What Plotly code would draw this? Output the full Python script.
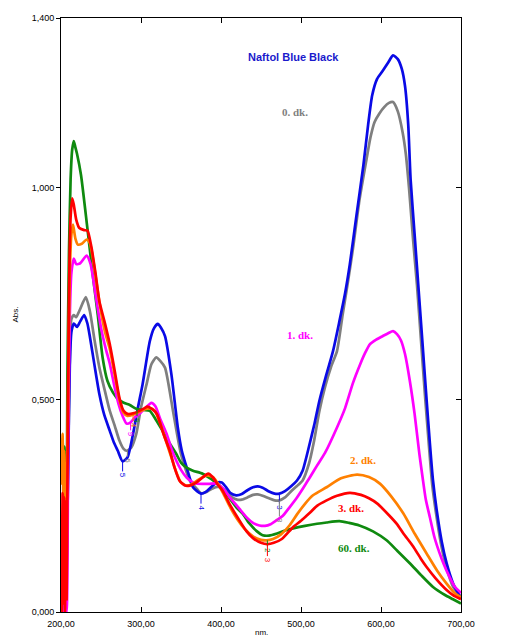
import plotly.graph_objects as go

# ---------------- data ----------------
blue_wl = [201, 203, 205, 207, 209, 211, 213, 216, 220, 224, 229, 233, 236, 242, 248, 254, 261, 266, 271, 277,
           283, 290, 296, 302, 311, 316, 321, 325, 330, 338, 346, 351, 357, 365, 370, 375, 381, 388, 395, 401,
           406, 412, 419, 426, 433, 440, 446, 452, 460, 467, 473, 480, 488, 495, 502, 510, 517, 523, 531, 540,
           548, 555, 561, 569, 578, 584, 589, 595, 602, 609, 615, 621, 626, 630, 634, 637, 642, 647, 652, 657,
           661, 665, 670, 676, 682, 690, 700]
blue_abs = [0.05, 0.15, 0.04, 0.12, 0.35, 0.58, 0.66, 0.68, 0.672, 0.685, 0.70, 0.68, 0.65, 0.58, 0.513, 0.465, 0.427, 0.40, 0.38, 0.355,
            0.364, 0.419, 0.48, 0.537, 0.638, 0.668, 0.679, 0.670, 0.650, 0.56, 0.435, 0.38, 0.341, 0.294, 0.285, 0.279, 0.283, 0.295, 0.305, 0.305,
            0.295, 0.280, 0.275, 0.278, 0.287, 0.294, 0.296, 0.293, 0.284, 0.279, 0.279, 0.285, 0.297, 0.310, 0.333, 0.39, 0.445, 0.498, 0.555, 0.615,
            0.685, 0.75, 0.819, 0.93, 1.053, 1.15, 1.218, 1.256, 1.275, 1.295, 1.312, 1.303, 1.28, 1.24, 1.15, 1.02, 0.89, 0.76, 0.63, 0.50,
            0.40, 0.31, 0.235, 0.165, 0.115, 0.068, 0.032]

gray_wl = [201, 203, 205, 207, 209, 211, 213, 216, 219, 223, 231, 236, 242, 248, 255, 261, 267, 273, 278, 282,
           288, 294, 300, 307, 313, 319, 324, 330, 340, 350, 361, 370, 375, 381, 388, 395, 401, 407, 414, 420,
           426, 433, 440, 446, 452, 460, 467, 473, 480, 488, 495, 502, 510, 516, 523, 530, 538, 545, 552, 558,
           565, 573, 582, 587, 592, 598, 604, 610, 615, 621, 627, 631, 635, 640, 645, 650, 655, 660, 664, 669,
           675, 681, 690, 700]
gray_abs = [0.06, 0.12, 0.04, 0.10, 0.36, 0.60, 0.69, 0.70, 0.695, 0.71, 0.742, 0.71, 0.64, 0.576, 0.52, 0.474, 0.44, 0.404, 0.385, 0.38,
            0.388, 0.419, 0.482, 0.537, 0.584, 0.60, 0.592, 0.576, 0.474, 0.372, 0.31, 0.29, 0.28, 0.282, 0.29, 0.295, 0.293, 0.283, 0.27, 0.265,
            0.265, 0.27, 0.276, 0.277, 0.274, 0.268, 0.263, 0.263, 0.27, 0.285, 0.297, 0.31, 0.35, 0.40, 0.474, 0.53, 0.58, 0.615, 0.70, 0.77,
            0.857, 0.97, 1.068, 1.12, 1.155, 1.175, 1.19, 1.20, 1.202, 1.18, 1.131, 1.08, 1.00, 0.88, 0.77, 0.64, 0.51, 0.39, 0.30, 0.23,
            0.16, 0.11, 0.06, 0.035]

mag_wl = [201, 203, 205, 207, 209, 211, 213, 216, 219, 224, 232, 237, 243, 250, 256, 261, 267, 272, 277, 282,
          287, 293, 298, 305, 313, 318, 324, 332, 338, 344, 350, 357, 363, 369, 377, 385, 395, 403, 411, 420,
          432, 440, 448, 455, 462, 470, 477, 485, 495, 503, 511, 520, 530, 545, 555, 565, 574, 580, 586, 594,
          602, 609, 615, 620, 625, 630, 636, 642, 648, 652, 656, 661, 667, 673, 678, 685, 692, 700]
mag_abs = [0.02, 0.0, 0.03, 0.0, 0.40, 0.70, 0.80, 0.833, 0.82, 0.822, 0.84, 0.82, 0.75, 0.67, 0.62, 0.585, 0.53, 0.49, 0.462, 0.444,
           0.447, 0.46, 0.467, 0.48, 0.493, 0.485, 0.455, 0.42, 0.385, 0.357, 0.335, 0.317, 0.308, 0.303, 0.302, 0.302, 0.303, 0.29, 0.27, 0.25,
           0.223, 0.21, 0.204, 0.203, 0.207, 0.217, 0.226, 0.245, 0.27, 0.293, 0.317, 0.345, 0.375, 0.435, 0.48, 0.54, 0.584, 0.61, 0.631, 0.642,
           0.650, 0.657, 0.662, 0.655, 0.64, 0.608, 0.545, 0.467, 0.372, 0.317, 0.265, 0.224, 0.175, 0.14, 0.115, 0.085, 0.06, 0.045]

orange_wl = [201, 202, 203, 204, 205, 206, 207, 209, 211, 213, 215, 218, 221, 226, 232, 236, 241, 248, 255, 261,
             267, 273, 278, 283, 290, 298, 305, 311, 317, 323, 330, 337, 344, 350, 357, 364, 372, 382, 390, 397,
             404, 412, 420, 430, 440, 450, 457, 465, 475, 486, 495, 505, 515, 532, 550, 570, 585, 599, 613, 628,
             642, 657, 670, 682, 692, 700]
orange_abs = [0.30, 0.42, 0.26, 0.38, 0.28, 0.35, 0.25, 0.55, 0.80, 0.89, 0.913, 0.88, 0.866, 0.868, 0.878, 0.87, 0.82, 0.73, 0.66, 0.62,
              0.56, 0.50, 0.47, 0.462, 0.465, 0.472, 0.478, 0.48, 0.475, 0.45, 0.41, 0.37, 0.33, 0.305, 0.298, 0.302, 0.312, 0.322, 0.318, 0.30,
              0.275, 0.245, 0.22, 0.195, 0.178, 0.17, 0.169, 0.172, 0.183, 0.205, 0.23, 0.255, 0.275, 0.294, 0.315, 0.324, 0.318, 0.302, 0.272, 0.232,
              0.185, 0.138, 0.098, 0.067, 0.045, 0.035]

red_wl = [201, 202, 203, 204, 205, 206, 207, 208, 210, 212, 214, 216, 219, 223, 229, 233, 238, 243, 248, 255,
          261, 267, 273, 278, 283, 290, 298, 304, 308, 314, 320, 328, 336, 342, 348, 355, 361, 369, 377, 384,
          390, 396, 402, 412, 423, 432, 440, 450, 458, 466, 476, 490, 500, 510, 520, 532, 545, 561, 575, 585,
          595, 610, 620, 628, 640, 650, 657, 668, 682, 690, 700]
red_abs = [0.0, 0.28, 0.02, 0.27, 0.0, 0.26, 0.03, 0.30, 0.75, 0.93, 0.975, 0.96, 0.925, 0.905, 0.90, 0.899, 0.86, 0.80, 0.732, 0.68,
           0.631, 0.57, 0.505, 0.475, 0.467, 0.468, 0.474, 0.48, 0.484, 0.478, 0.466, 0.42, 0.38, 0.34, 0.31, 0.298, 0.298, 0.305, 0.317, 0.326,
           0.317, 0.30, 0.286, 0.25, 0.216, 0.19, 0.174, 0.163, 0.16, 0.163, 0.172, 0.20, 0.215, 0.232, 0.25, 0.263, 0.274, 0.281, 0.276, 0.268,
           0.256, 0.228, 0.207, 0.185, 0.155, 0.125, 0.106, 0.08, 0.052, 0.04, 0.03]

green_wl = [201, 202, 203, 204, 205, 206, 207, 208, 210, 212, 214, 216, 218, 220, 225, 233, 240, 246, 252, 258,
            265, 272, 280, 286, 294, 303, 311, 318, 327, 335, 344, 350, 357, 365, 377, 388, 398, 410, 420, 427,
            435, 445, 452, 460, 470, 480, 490, 505, 520, 532, 548, 560, 573, 590, 607, 620, 636, 650, 665, 680,
            690, 700]
green_abs = [0.36, 0.41, 0.30, 0.39, 0.25, 0.34, 0.20, 0.55, 0.85, 1.02, 1.09, 1.11, 1.095, 1.08, 1.03, 0.904, 0.79, 0.70, 0.60, 0.545,
             0.517, 0.50, 0.492, 0.488, 0.479, 0.476, 0.474, 0.455, 0.427, 0.40, 0.373, 0.352, 0.34, 0.333, 0.326, 0.313, 0.298, 0.27, 0.245, 0.232,
             0.21, 0.19, 0.181, 0.18, 0.185, 0.192, 0.197, 0.203, 0.208, 0.211, 0.214, 0.21, 0.204, 0.19, 0.169, 0.145, 0.115, 0.087, 0.059, 0.04,
             0.03, 0.02]

x_ticks = [200, 300, 400, 500, 600, 700]
x_tick_text = ["200,00", "300,00", "400,00", "500,00", "600,00", "700,00"]
y_ticks = [0.0, 0.5, 1.0, 1.4]
y_tick_text = ["0,000", "0,500", "1,000", "1,400"]

series_labels = ["0. dk.", "1. dk.", "2. dk.", "3. dk.", "60. dk."]
label_pos_wl = [492, 499, 577, 562, 566]
label_pos_abs = [1.179, 0.652, 0.358, 0.245, 0.151]

# peak-pick markers
pick_wl = [277, 375, 473, 473, 283, 287, 290, 295, 458, 458]
pick_abs = [0.355, 0.279, 0.279, 0.263, 0.38, 0.447, 0.465, 0.476, 0.169, 0.16]
pick_text = ["5", "4", "3", "3", "5", "9", "4", "5", "2", "3"]

BLUE = "#0a0ae6"
GRAY = "#7f7f7f"
MAG = "#ff00ff"
ORANGE = "#ff8000"
RED = "#ff0000"
GREEN = "#0f8a0f"
pick_col = [BLUE, BLUE, BLUE, GRAY, GRAY, MAG, ORANGE, GREEN, GREEN, RED]
pick_off = [14, 14, 14, 20, 10, 12, 10, 10, 10, 16]

fig = go.Figure()
line_kw = dict(shape="spline", smoothing=0.6, width=2.7)
for wl, ab, col, nm in [
    (gray_wl, gray_abs, GRAY, "0. dk."),
    (blue_wl, blue_abs, BLUE, "Naftol Blue Black"),
    (green_wl, green_abs, GREEN, "60. dk."),
    (mag_wl, mag_abs, MAG, "1. dk."),
    (orange_wl, orange_abs, ORANGE, "2. dk."),
    (red_wl, red_abs, RED, "3. dk."),
]:
    fig.add_trace(go.Scatter(x=wl, y=ab, mode="lines", name=nm,
                             line=dict(color=col, **line_kw), hoverinfo="skip"))

# invisible trace for right axis ticks
fig.add_trace(go.Scatter(x=[200, 700], y=[0, 1.4], yaxis="y2", mode="lines",
                         line=dict(width=0), showlegend=False, hoverinfo="skip"))

annotations = []
annotations.append(dict(x=490, y=1.308, text="<b>Naftol Blue Black</b>", showarrow=False,
                        font=dict(family="Liberation Sans, Arial", size=11, color="#1a1acc")))
label_cols = [GRAY, MAG, ORANGE, RED, GREEN]
for t, xw, ya, c in zip(series_labels, label_pos_wl, label_pos_abs, label_cols):
    annotations.append(dict(x=xw, y=ya, text="<b>" + t + "</b>", showarrow=False,
                            font=dict(family="Liberation Serif, Times New Roman", size=11, color=c)))
for xw, ya, t, c, off in zip(pick_wl, pick_abs, pick_text, pick_col, pick_off):
    annotations.append(dict(x=xw, y=ya, text=t, textangle=90, showarrow=True, arrowhead=0,
                            arrowwidth=1, arrowcolor=c, ax=0, ay=off,
                            font=dict(family="Liberation Sans, Arial", size=8, color=c)))
# axis titles
annotations.append(dict(xref="paper", yref="paper", x=-0.1325, xanchor="left", y=0.5, text="Abs.",
                        textangle=-90, showarrow=False,
                        font=dict(family="Liberation Sans, Arial", size=8, color="black")))
annotations.append(dict(xref="paper", yref="paper", x=0.5, y=-0.034, yanchor="middle", text="nm.",
                        showarrow=False, font=dict(family="Liberation Sans, Arial", size=8, color="black")))

tick_font = dict(family="Liberation Sans, Arial", size=9, color="black")
fig.update_layout(
    width=512, height=632,
    margin=dict(l=53, r=59, t=5, b=28),
    paper_bgcolor="white", plot_bgcolor="white",
    showlegend=False,
    annotations=annotations,
    xaxis=dict(range=[200, 700], tickvals=x_ticks, ticktext=x_tick_text, ticks="inside",
               ticklen=5, tickcolor="black", showline=True, linecolor="black", linewidth=1,
               mirror="ticks", showgrid=False, zeroline=False, tickfont=tick_font,
               ticklabelstandoff=3),
    yaxis=dict(range=[0, 1.4], tickvals=y_ticks, ticktext=y_tick_text, ticks="outside",
               ticklen=4, tickcolor="black", showline=True, linecolor="black", linewidth=1,
               mirror=True, showgrid=False, zeroline=False, tickfont=tick_font),
    yaxis2=dict(range=[0, 1.4], tickvals=y_ticks, overlaying="y", side="right", ticks="inside",
                ticklen=5, tickcolor="black", showticklabels=False, showgrid=False, zeroline=False,
                showline=False),
)

fig.write_html("out.html")
